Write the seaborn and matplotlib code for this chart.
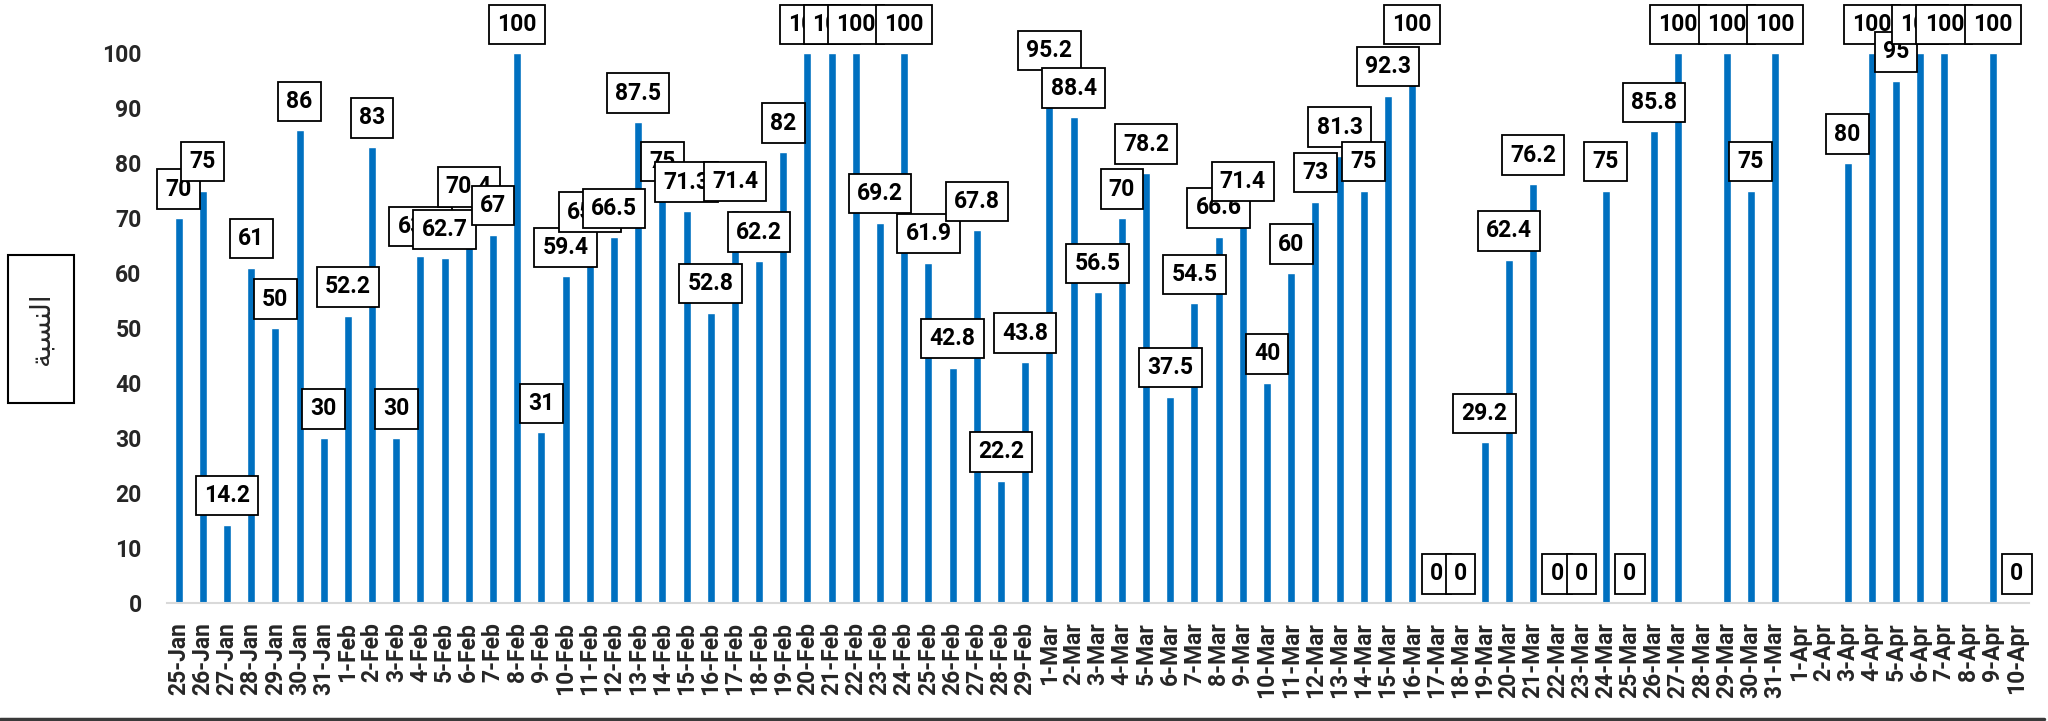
import numpy as np
import pandas as pd
import matplotlib
matplotlib.use('Agg')
import matplotlib.pyplot as plt
import matplotlib.patches as mpatches
import matplotlib.lines as mlines
import seaborn as sns

# 데이터
jan = ['25-Jan', '26-Jan', '27-Jan', '28-Jan', '29-Jan', '30-Jan', '31-Jan']
feb = [f'{d}-Feb' for d in range(1, 30)]
mar = [f'{d}-Mar' for d in range(1, 32)]
apr = [f'{d}-Apr' for d in range(1, 11)]
dates = jan + feb + mar + apr

jan_vals = [70, 75, 14.2, 61, 50, 86, 30]
feb_vals = [52.2, 83, 30, 63.2, 62.7, 70.4, 67, 100, 31, 59.4,
            65.8, 66.5, 87.5, 75, 71.3, 52.8, 71.4, 62.2, 82, 100,
            100, 100, 69.2, 100, 61.9, 42.8, 67.8, 22.2, 43.8]
mar_vals = [95.2, 88.4, 56.5, 70, 78.2, 37.5, 54.5, 66.6, 71.4, 40,
            60, 73, 81.3, 75, 92.3, 100, 0, 0, 29.2, 62.4,
            76.2, 0, 0, 75, 0, 85.8, 100, np.nan, 100, 75,
            100]
apr_vals = [np.nan, np.nan, 80, 100, 95, 100, 100, np.nan, 100, 0]
values = jan_vals + feb_vals + mar_vals + apr_vals

y_ticks = list(range(0, 101, 10))
y_title = '\ufe94\ufe92\ufeb4\ufee8\ufedf\ufe8d'  # النسبة (shaped, visual order)

df = pd.DataFrame({'date': dates, 'value': values})

# 스타일
sns.set_style('white')
plt.rcParams['font.family'] = ['Roboto', 'DejaVu Sans']
plt.rcParams['font.weight'] = 'bold'

fig = plt.figure(figsize=(20.48, 7.21), dpi=100)
ax = fig.add_axes([0.0813, 0.164, 0.9094, 0.762])

sns.barplot(data=df.dropna(), x='date', y='value', order=dates,
            color='#0070C0', saturation=1, width=0.33, errorbar=None, ax=ax)

# 데이터 라벨
for i, v in enumerate(values):
    if np.isnan(v):
        continue
    ax.annotate(f'{v:g}', xy=(i, v), xytext=(0, 12.6), textcoords='offset points',
                ha='center', va='bottom', fontsize=16.5, fontweight='bold', color='black',
                annotation_clip=False, zorder=5,
                bbox=dict(boxstyle='square,pad=0.36', fc='white', ec='black', lw=1.3))

ax.set_xlim(-0.5, len(dates) - 0.5)
ax.set_ylim(0, 100)
ax.set_yticks(y_ticks)
ax.tick_params(axis='y', length=0, pad=18, labelsize=16.5)
ax.tick_params(axis='x', length=0, pad=14, labelsize=16.5, rotation=90)
for lab in ax.get_xticklabels() + ax.get_yticklabels():
    lab.set_fontweight('bold')
ax.set_xlabel('')
ax.set_ylabel('')

for s in ['top', 'right', 'left']:
    ax.spines[s].set_visible(False)
ax.spines['bottom'].set_color('#D9D9D9')
ax.spines['bottom'].set_linewidth(1.5)

# Y축 제목 (박스)
fig.patches.append(mpatches.Rectangle((8 / 2048, 1 - 403 / 721), 66 / 2048, 148 / 721,
                                      transform=fig.transFigure, fill=False,
                                      ec='black', lw=1.5))
fig.text(41 / 2048, 1 - 329 / 721, y_title, rotation=90, ha='center', va='center',
         fontsize=20, family='DejaVu Sans', fontweight='normal')

# 하단 선
fig.lines.append(mlines.Line2D([0, 0.998], [0.003, 0.003], transform=fig.transFigure,
                               color='#3a3a3a', lw=2.5))

fig.savefig('out.png', dpi=100)
